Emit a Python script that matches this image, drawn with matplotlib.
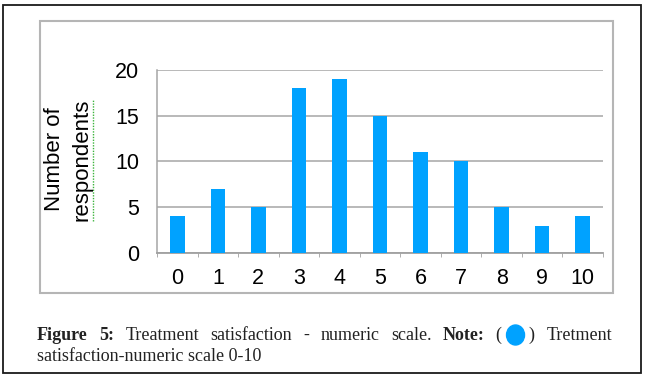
import matplotlib
matplotlib.use("Agg")
import matplotlib.pyplot as plt
from matplotlib.patches import Rectangle, Ellipse
from matplotlib.lines import Line2D

categories = ["0", "1", "2", "3", "4", "5", "6", "7", "8", "9", "10"]
respondents = [4, 7, 5, 18, 19, 15, 11, 10, 5, 3, 4]
yticks = [0, 5, 10, 15, 20]
ylabel_lines = ["Number of", "respondents"]
caption_line1 = [("Figure", True), ("5:", True), ("Treatment", False), ("satisfaction", False),
                 ("-", False), ("numeric", False), ("scale.", False), ("Note:", True),
                 ("(\u2002\u2002\u2002)", False), ("Tretment", False)]
caption_line2 = "satisfaction-numeric scale 0-10"

W, H = 645, 380
fig = plt.figure(figsize=(W / 100, H / 100), dpi=100)
fig.patch.set_facecolor("white")

def fx(x): return x / W
def fy(y): return 1 - y / H

# outer border
fig.add_artist(Rectangle((fx(3), fy(373)), 638 / W, 368 / H, transform=fig.transFigure,
                         fill=False, edgecolor="#1a1a1a", lw=1.3))
# inner chart box
fig.add_artist(Rectangle((fx(40), fy(293)), (613 - 40) / W, (293 - 21) / H, transform=fig.transFigure,
                         fill=False, edgecolor="#b5b5b5", lw=1.5))

bar_color = "#00a2ff"
ax = fig.add_axes([fx(157), fy(253), (603 - 157) / W, (253 - 70) / H])
x = list(range(len(categories)))
ax.bar(x, respondents, width=0.36, color=bar_color, zorder=3)
ax.set_xlim(-0.5, len(categories) - 0.5)
ax.set_ylim(0, 20)
ax.set_yticks(yticks)
ax.set_yticklabels([str(t) for t in yticks], fontsize=15.5, family="Liberation Sans")
ax.set_xticks(x)
ax.set_xticklabels(categories, fontsize=15.5, family="Liberation Sans")
ax.tick_params(axis="x", length=0, pad=11)
ax.tick_params(axis="y", length=0, pad=13)
# minor tick marks at category boundaries
ax.set_xticks([i - 0.5 for i in range(len(categories) + 1)], minor=True)
ax.tick_params(axis="x", which="minor", length=3, color="#a0a0a0", direction="out")
ax.grid(axis="y", color="#a6a6a6", lw=1.1, zorder=0)
for s in ["top", "right"]:
    ax.spines[s].set_visible(False)
ax.spines["left"].set_color("#a6a6a6")
ax.spines["bottom"].set_color("#a0a0a0")
ax.spines["left"].set_linewidth(1.1)
ax.spines["bottom"].set_linewidth(1.3)

# y label (two lines)
fig.text(fx(54), fy(159), ylabel_lines[0], rotation=90, ha="center", va="center",
         fontsize=16, family="Liberation Sans")
t2 = fig.text(fx(82), fy(160), ylabel_lines[1], rotation=90, ha="center", va="center",
              fontsize=16, family="Liberation Sans")

fig.canvas.draw()
r = fig.canvas.get_renderer()
bb = t2.get_window_extent(r)
fig.add_artist(Line2D([bb.x1 / W + 0.001] * 2, [bb.y0 / H, bb.y1 / H], transform=fig.transFigure,
                      color="#3cb43c", lw=1.0, ls=(0, (1, 1))))

# caption line 1, justified
left, right = 37, 612
cap_fs = 13
texts = []
for word, bold in caption_line1:
    t = fig.text(0, fy(340), word, fontsize=cap_fs, family="Liberation Serif",
                 fontweight="bold" if bold else "normal", ha="left", va="baseline", color="#222222")
    texts.append(t)
fig.canvas.draw()
widths = [t.get_window_extent(r).width for t in texts]
gap = ((right - left) - sum(widths)) / (len(texts) - 1)
xpos = left
for t, w, (word, _) in zip(texts, widths, caption_line1):
    t.set_x(xpos / W)
    if word.startswith("("):
        cx = xpos + w / 2
        fig.add_artist(Ellipse((fx(cx), fy(335)), 18 / W, 20 / H, transform=fig.transFigure,
                               color=bar_color))
    xpos += w + gap

fig.text(fx(left), fy(361), caption_line2, fontsize=cap_fs, family="Liberation Serif",
         ha="left", va="baseline", color="#222222")

fig.savefig("out.png", dpi=100)
